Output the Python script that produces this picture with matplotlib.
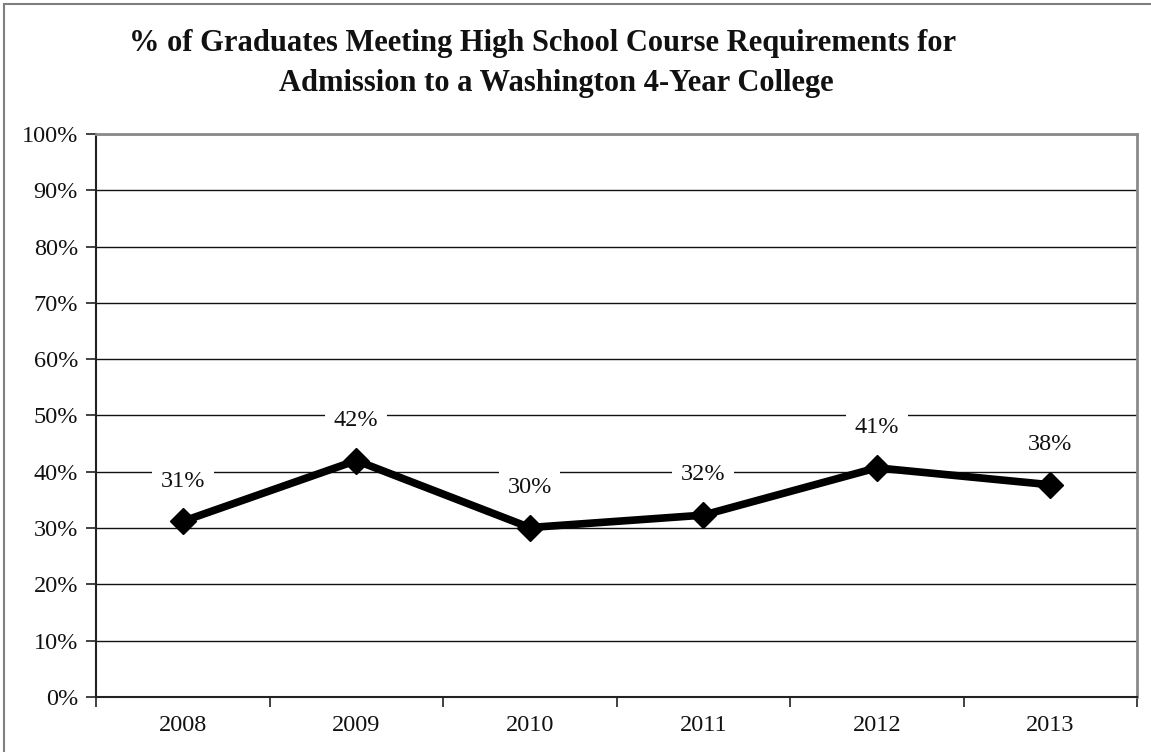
import matplotlib
matplotlib.use("Agg")
import matplotlib.pyplot as plt
from matplotlib.patches import Rectangle
from matplotlib.ticker import MultipleLocator, FuncFormatter, FixedLocator

# Data
years = ["2008", "2009", "2010", "2011", "2012", "2013"]
pct_meeting = [0.312, 0.420, 0.301, 0.323, 0.407, 0.377]
title_lines = ["% of Graduates Meeting High School Course Requirements for",
               "Admission to a Washington 4-Year College"]

SERIF = ["Liberation Serif", "DejaVu Serif"]
plt.rcParams["font.family"] = SERIF

W, H, DPI = 1151, 752, 100
fig = plt.figure(figsize=(W / DPI, H / DPI), dpi=DPI)
fig.patch.set_facecolor("white")

# Outer chart frame (extends past the right and bottom edges)
fig.add_artist(Rectangle((3.5 / W, -0.05), 1.2, 1.05 - 4.5 / H,
                         transform=fig.transFigure, fill=False,
                         edgecolor="#7f7f7f", linewidth=1.5))

ax = fig.add_axes([96 / W, 55 / H, (1137 - 96) / W, (697 - 134) / H])
x = list(range(len(years)))

ax.set_xlim(-0.5, len(years) - 0.5)
ax.set_ylim(0, 1.0)

# Horizontal gridlines
ax.yaxis.set_major_locator(MultipleLocator(0.1))
ax.yaxis.set_major_formatter(FuncFormatter(lambda v, _: f"{v * 100:.0f}%"))
ax.grid(axis="y", color="#111111", linewidth=1.0, zorder=1)
ax.set_axisbelow(True)

# Category ticks sit between the years
ax.xaxis.set_major_locator(FixedLocator(x))
ax.set_xticklabels(years)
ax.tick_params(axis="x", which="major", length=0, pad=13, labelsize=17.5,
               labelcolor="#111111")
ax.xaxis.set_minor_locator(FixedLocator([i - 0.5 for i in range(len(years) + 1)]))
ax.tick_params(axis="x", which="minor", length=7, width=1.2, color="#222222", direction="out")
ax.tick_params(axis="y", length=7, width=1.2, color="#222222", direction="out",
               labelsize=17.5, pad=6, labelcolor="#111111")

for side in ("top", "right"):
    ax.spines[side].set_color("#8a8a8a")
    ax.spines[side].set_linewidth(2.0)
for side in ("left", "bottom"):
    ax.spines[side].set_color("#222222")
    ax.spines[side].set_linewidth(1.5)

ax.plot(x, pct_meeting, color="black", linewidth=5.5, marker="D",
        markersize=13.5, markeredgewidth=1, zorder=3, solid_joinstyle="miter")

for xi, v in zip(x, pct_meeting):
    ax.annotate(f"{v * 100:.0f}%", (xi, v), xytext=(0, 29), textcoords="offset points",
                ha="center", va="center", fontsize=17.5, color="#111111", zorder=4,
                bbox=dict(boxstyle="square,pad=0.35", facecolor="white", edgecolor="none"))

fig.text(543 / W, 1 - 51 / H, title_lines[0], ha="center", va="baseline",
         fontsize=22, fontweight="bold", color="#111111")
fig.text(556.5 / W, 1 - 91 / H, title_lines[1], ha="center", va="baseline",
         fontsize=22, fontweight="bold", color="#111111")

fig.savefig("out.png", dpi=DPI, facecolor="white")
